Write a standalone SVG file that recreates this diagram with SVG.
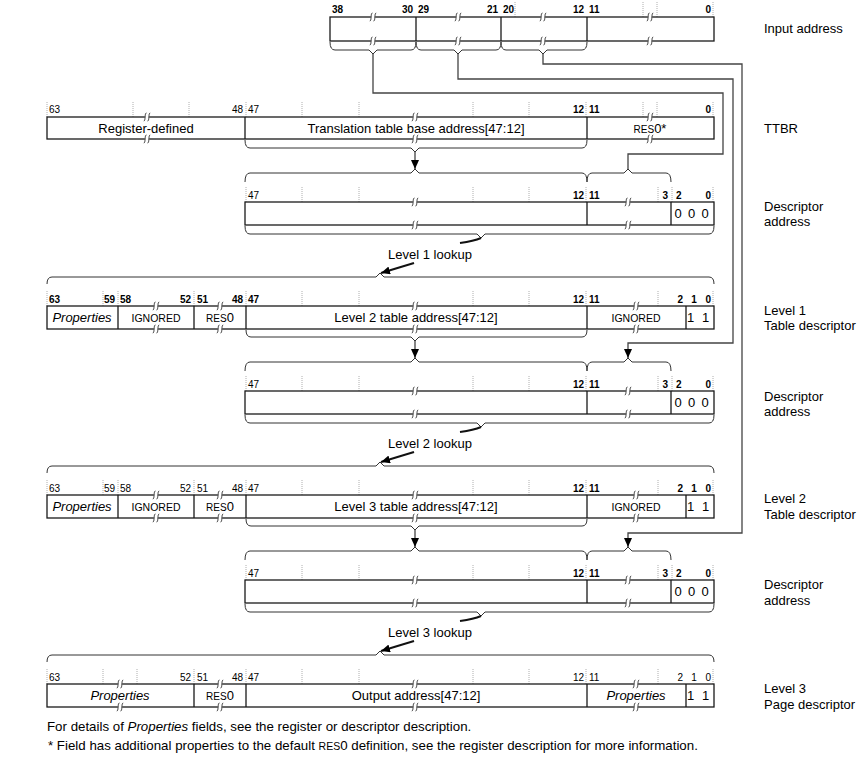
<svg xmlns="http://www.w3.org/2000/svg" width="866" height="759" viewBox="0 0 866 759">
<style>
text{font-family:"Liberation Sans",Arial,sans-serif;fill:#000}
.t{font-size:13px}
.m{text-anchor:middle}
.e{text-anchor:end}
.n{font-size:10px}
.nb{font-size:10px;font-weight:bold}
.ig{font-size:10.5px}
.sc{font-size:10px}
.it{font-style:italic}
.fn{font-size:13.3px}
.box{fill:#fff;stroke:#1a1a1a;stroke-width:1.3}
.dv{stroke:#1a1a1a;stroke-width:1.3}
.br{fill:none;stroke:#333;stroke-width:1}
.tk{fill:none;stroke:#9a9a9a;stroke-width:0.8;stroke-dasharray:1 1}
.cn{fill:none;stroke:#444;stroke-width:1.3}
.lk{fill:none;stroke:#111;stroke-width:2}
</style>
<defs>
<g id="brk">
<rect x="-2.2" y="-1.6" width="4.4" height="3.2" fill="#fff"/>
<path d="M-3.2,4 C-1.2,4 -2.6,-4 -0.6,-4 M0.6,4 C2.6,4 1.2,-4 3.2,-4" fill="none" stroke="#222" stroke-width="0.9"/>
</g>
<marker id="ah" markerUnits="userSpaceOnUse" markerWidth="10" markerHeight="8" refX="9" refY="4" orient="auto">
<path d="M0,0 L9,4 L0,8 Z" fill="#000"/>
</marker>
</defs>

<!-- Input address -->
<g id="input-address">
<path class="tk" d="M515,2V17M643,2V17M657,2V17M713,2V17"/>
<text class="nb" x="332" y="13">38</text>
<text class="nb e" x="413" y="13">30</text>
<text class="nb" x="418" y="13">29</text>
<text class="nb e" x="498" y="13">21</text>
<text class="nb" x="503" y="13">20</text>
<text class="nb e" x="584" y="13">12</text>
<text class="nb" x="589" y="13">11</text>
<text class="nb e" x="711" y="13">0</text>
<rect class="box" x="330" y="17" width="384" height="24"/>
<path class="dv" d="M416,17V41M501,17V41M587,17V41"/>
<use href="#brk" x="373" y="17"/><use href="#brk" x="458" y="17"/><use href="#brk" x="543" y="17"/><use href="#brk" x="650" y="17"/>
<use href="#brk" x="373" y="41"/><use href="#brk" x="458" y="41"/><use href="#brk" x="543" y="41"/><use href="#brk" x="650" y="41"/>
<path class="br" d="M330,42Q330,50 335,50L369,50L373,54L377,50L411,50Q416,50 416,42"/>
<path class="br" d="M416,42Q416,50 421,50L454,50L458,54L462,50L496,50Q501,50 501,42"/>
<path class="br" d="M501,42Q501,50 506,50L539,50L543,54L547,50L582,50Q587,50 587,42"/>
<text class="t" x="764" y="33">Input address</text>
</g>

<!-- TTBR -->
<g id="ttbr">
<path class="tk" d="M47,102V117M133,102V117M189,102V117M246,102V117M302,102V117M359,102V117M473,102V117M529,102V117M586,102V117M643,102V117M657,102V117M713,102V117"/>
<text class="n" x="49" y="113">63</text>
<text class="n e" x="243" y="113">48</text>
<text class="n" x="248" y="113">47</text>
<text class="nb e" x="584" y="113">12</text>
<text class="nb" x="589" y="113">11</text>
<text class="nb e" x="711" y="113">0</text>
<rect class="box" x="47" y="117" width="667" height="22"/>
<path class="dv" d="M245,117V139M587,117V139"/>
<use href="#brk" x="147" y="117"/><use href="#brk" x="415" y="117"/><use href="#brk" x="650" y="117"/>
<use href="#brk" x="147" y="139"/><use href="#brk" x="415" y="139"/><use href="#brk" x="650" y="139"/>
<text class="t m" x="146" y="132.5">Register-defined</text>
<text class="t m" x="416" y="132.5">Translation table base address[47:12]</text>
<text class="t m" x="650" y="132.5"><tspan class="sc">RES</tspan>0*</text>
<path class="br" d="M245,140Q245,148 250,148L411,148L415,152L419,148L582,148Q587,148 587,140"/>
<text class="t" x="764" y="133">TTBR</text>
</g>

<!-- Descriptor address 1 -->
<g id="desc-addr-1">
<path class="br" d="M245,182Q245,173 250,173L411,173L415,169L419,173L582,173Q587,173 587,182"/>
<path class="br" d="M587,182Q587,173 592,173L624,173L628,169L632,173L666,173Q671,173 671,182"/>
<path class="tk" d="M246,187V202M302,187V202M359,187V202M473,187V202M529,187V202M586,187V202M658,187V202M672,187V202M713,187V202"/>
<text class="n" x="248" y="198.5">47</text>
<text class="nb e" x="584" y="198.5">12</text>
<text class="nb" x="589" y="198.5">11</text>
<text class="nb e" x="668" y="198.5">3</text>
<text class="nb" x="676" y="198.5">2</text>
<text class="nb e" x="711" y="198.5">0</text>
<rect class="box" x="245" y="202" width="469" height="23"/>
<path class="dv" d="M587,202V225M671,202V225"/>
<use href="#brk" x="415" y="202"/><use href="#brk" x="628" y="202"/>
<use href="#brk" x="415" y="225"/><use href="#brk" x="628" y="225"/>
<text class="t m" x="678" y="218">0</text><text class="t m" x="691.5" y="218">0</text><text class="t m" x="705" y="218">0</text>
<path class="br" d="M245,226Q245,234 250,234L477,234L481,238L485,234L709,234Q714,234 714,226"/>
<text class="t" x="764" y="211">Descriptor</text>
<text class="t" x="764" y="226">address</text>
</g>

<!-- Level 1 table descriptor -->
<g id="level1-descriptor">
<path class="br" d="M47,284Q47,277 52,277L376,277L380,273L384,277L709,277Q714,277 714,284"/>
<path class="tk" d="M47,291V306M103,291V306M118,291V306M194,291V306M246,291V306M302,291V306M359,291V306M473,291V306M529,291V306M586,291V306M658,291V306M713,291V306"/>
<text class="nb" x="49" y="302.5">63</text>
<text class="nb e" x="115" y="302.5">59</text>
<text class="nb" x="120" y="302.5">58</text>
<text class="nb e" x="191" y="302.5">52</text>
<text class="nb" x="197" y="302.5">51</text>
<text class="nb e" x="243" y="302.5">48</text>
<text class="nb" x="248" y="302.5">47</text>
<text class="nb e" x="584" y="302.5">12</text>
<text class="nb" x="589" y="302.5">11</text>
<text class="nb e" x="683" y="302.5">2</text>
<text class="nb m" x="694" y="302.5">1</text>
<text class="nb e" x="711" y="302.5">0</text>
<rect class="box" x="47" y="306" width="667" height="23"/>
<path class="dv" d="M118,306V329M194,306V329M246,306V329M587,306V329M686,306V329"/>
<use href="#brk" x="156" y="306"/><use href="#brk" x="220" y="306"/><use href="#brk" x="415" y="306"/><use href="#brk" x="636" y="306"/>
<use href="#brk" x="156" y="329"/><use href="#brk" x="220" y="329"/><use href="#brk" x="415" y="329"/><use href="#brk" x="636" y="329"/>
<text class="t m it" x="82" y="322">Properties</text>
<text class="ig m" x="156" y="321.5">IGNORED</text>
<text class="t m" x="220" y="322"><tspan class="sc">RES</tspan>0</text>
<text class="t m" x="416" y="322">Level 2 table address[47:12]</text>
<text class="ig m" x="636" y="321.5">IGNORED</text>
<text class="t m" x="690.5" y="322">1</text><text class="t m" x="705.5" y="322">1</text>
<path class="br" d="M246,330Q246,337 251,337L411,337L415,341L419,337L582,337Q587,337 587,330"/>
<text class="t" x="764" y="315">Level 1</text>
<text class="t" x="764" y="330">Table descriptor</text>
</g>

<!-- Descriptor address 2 -->
<g id="desc-addr-2">
<path class="br" d="M245,371Q245,362 250,362L411,362L415,358L419,362L582,362Q587,362 587,371"/>
<path class="br" d="M587,371Q587,362 592,362L624,362L628,358L632,362L666,362Q671,362 671,371"/>
<path class="tk" d="M246,376V391M302,376V391M359,376V391M473,376V391M529,376V391M586,376V391M658,376V391M672,376V391M713,376V391"/>
<text class="n" x="248" y="387.5">47</text>
<text class="nb e" x="584" y="387.5">12</text>
<text class="nb" x="589" y="387.5">11</text>
<text class="nb e" x="668" y="387.5">3</text>
<text class="nb" x="676" y="387.5">2</text>
<text class="nb e" x="711" y="387.5">0</text>
<rect class="box" x="245" y="391" width="469" height="23"/>
<path class="dv" d="M587,391V414M671,391V414"/>
<use href="#brk" x="415" y="391"/><use href="#brk" x="628" y="391"/>
<use href="#brk" x="415" y="414"/><use href="#brk" x="628" y="414"/>
<text class="t m" x="678" y="407">0</text><text class="t m" x="691.5" y="407">0</text><text class="t m" x="705" y="407">0</text>
<path class="br" d="M245,415Q245,423 250,423L477,423L481,427L485,423L709,423Q714,423 714,415"/>
<text class="t" x="764" y="401">Descriptor</text>
<text class="t" x="764" y="416">address</text>
</g>

<!-- Level 2 table descriptor -->
<g id="level2-descriptor">
<path class="br" d="M47,473Q47,466 52,466L376,466L380,462L384,466L709,466Q714,466 714,473"/>
<path class="tk" d="M47,480V495M103,480V495M118,480V495M194,480V495M246,480V495M302,480V495M359,480V495M473,480V495M529,480V495M586,480V495M658,480V495M713,480V495"/>
<text class="n" x="49" y="491.5">63</text>
<text class="n e" x="115" y="491.5">59</text>
<text class="n" x="120" y="491.5">58</text>
<text class="n e" x="191" y="491.5">52</text>
<text class="n" x="197" y="491.5">51</text>
<text class="n e" x="243" y="491.5">48</text>
<text class="n" x="248" y="491.5">47</text>
<text class="nb e" x="584" y="491.5">12</text>
<text class="nb" x="589" y="491.5">11</text>
<text class="nb e" x="683" y="491.5">2</text>
<text class="nb m" x="694" y="491.5">1</text>
<text class="nb e" x="711" y="491.5">0</text>
<rect class="box" x="47" y="495" width="667" height="23"/>
<path class="dv" d="M118,495V518M194,495V518M246,495V518M587,495V518M686,495V518"/>
<use href="#brk" x="156" y="495"/><use href="#brk" x="220" y="495"/><use href="#brk" x="415" y="495"/><use href="#brk" x="636" y="495"/>
<use href="#brk" x="156" y="518"/><use href="#brk" x="220" y="518"/><use href="#brk" x="415" y="518"/><use href="#brk" x="636" y="518"/>
<text class="t m it" x="82" y="511">Properties</text>
<text class="ig m" x="156" y="510.5">IGNORED</text>
<text class="t m" x="220" y="511"><tspan class="sc">RES</tspan>0</text>
<text class="t m" x="416" y="511">Level 3 table address[47:12]</text>
<text class="ig m" x="636" y="510.5">IGNORED</text>
<text class="t m" x="690.5" y="511">1</text><text class="t m" x="705.5" y="511">1</text>
<path class="br" d="M246,519Q246,526 251,526L411,526L415,530L419,526L582,526Q587,526 587,519"/>
<text class="t" x="764" y="503">Level 2</text>
<text class="t" x="764" y="519">Table descriptor</text>
</g>

<!-- Descriptor address 3 -->
<g id="desc-addr-3">
<path class="br" d="M245,560Q245,551 250,551L411,551L415,547L419,551L582,551Q587,551 587,560"/>
<path class="br" d="M587,560Q587,551 592,551L624,551L628,547L632,551L666,551Q671,551 671,560"/>
<path class="tk" d="M246,565V580M302,565V580M359,565V580M473,565V580M529,565V580M586,565V580M658,565V580M672,565V580M713,565V580"/>
<text class="n" x="248" y="576.5">47</text>
<text class="nb e" x="584" y="576.5">12</text>
<text class="nb" x="589" y="576.5">11</text>
<text class="nb e" x="668" y="576.5">3</text>
<text class="nb" x="676" y="576.5">2</text>
<text class="nb e" x="711" y="576.5">0</text>
<rect class="box" x="245" y="580" width="469" height="23"/>
<path class="dv" d="M587,580V603M671,580V603"/>
<use href="#brk" x="415" y="580"/><use href="#brk" x="628" y="580"/>
<use href="#brk" x="415" y="603"/><use href="#brk" x="628" y="603"/>
<text class="t m" x="678" y="596">0</text><text class="t m" x="691.5" y="596">0</text><text class="t m" x="705" y="596">0</text>
<path class="br" d="M245,604Q245,612 250,612L477,612L481,616L485,612L709,612Q714,612 714,604"/>
<text class="t" x="764" y="589">Descriptor</text>
<text class="t" x="764" y="605">address</text>
</g>

<!-- Level 3 page descriptor -->
<g id="level3-descriptor">
<path class="br" d="M47,662Q47,655 52,655L376,655L380,651L384,655L709,655Q714,655 714,662"/>
<path class="tk" d="M47,669V684M103,669V684M137,669V684M194,669V684M246,669V684M302,669V684M359,669V684M473,669V684M529,669V684M586,669V684M658,669V684M713,669V684"/>
<text class="n" x="49" y="680.5">63</text>
<text class="n e" x="191" y="680.5">52</text>
<text class="n" x="197" y="680.5">51</text>
<text class="n e" x="243" y="680.5">48</text>
<text class="n" x="248" y="680.5">47</text>
<text class="n e" x="584" y="680.5">12</text>
<text class="n" x="589" y="680.5">11</text>
<text class="n e" x="683" y="680.5">2</text>
<text class="n m" x="694" y="680.5">1</text>
<text class="n e" x="711" y="680.5">0</text>
<rect class="box" x="47" y="684" width="667" height="23"/>
<path class="dv" d="M194,684V707M246,684V707M587,684V707M686,684V707"/>
<use href="#brk" x="120" y="684"/><use href="#brk" x="220" y="684"/><use href="#brk" x="415" y="684"/><use href="#brk" x="636" y="684"/>
<use href="#brk" x="120" y="707"/><use href="#brk" x="220" y="707"/><use href="#brk" x="415" y="707"/><use href="#brk" x="636" y="707"/>
<text class="t m it" x="120" y="700">Properties</text>
<text class="t m" x="220" y="700"><tspan class="sc">RES</tspan>0</text>
<text class="t m" x="416" y="700">Output address[47:12]</text>
<text class="t m it" x="636" y="700">Properties</text>
<text class="t m" x="690.5" y="700">1</text><text class="t m" x="705.5" y="700">1</text>
<text class="t" x="764" y="693">Level 3</text>
<text class="t" x="764" y="709">Page descriptor</text>
</g>

<!-- Connectors -->
<g id="connectors">
<path class="cn" d="M373,54V93H723V154H628V169"/>
<path class="cn" d="M458,54V79H733V343H628V358" marker-end="url(#ah)"/>
<path class="cn" d="M543,54V64H742V533H628V547" marker-end="url(#ah)"/>
<path class="cn" d="M415,152V169" marker-end="url(#ah)"/>
<path class="cn" d="M415,341V358" marker-end="url(#ah)"/>
<path class="cn" d="M415,530V547" marker-end="url(#ah)"/>
<path class="lk" d="M481,238Q474,241 460,243"/>
<path class="lk" d="M414,263L381,273" marker-end="url(#ah)"/>
<path class="lk" d="M481,427Q474,430 460,432"/>
<path class="lk" d="M414,452L381,462" marker-end="url(#ah)"/>
<path class="lk" d="M481,616Q474,619 460,621"/>
<path class="lk" d="M414,641L381,651" marker-end="url(#ah)"/>
</g>
<g id="lookup-labels">
<text class="t m" x="430" y="259">Level 1 lookup</text>
<text class="t m" x="430" y="448">Level 2 lookup</text>
<text class="t m" x="430" y="637">Level 3 lookup</text>
</g>

<!-- Footnotes -->
<g id="notes">
<text class="fn" x="47" y="731">For details of <tspan class="it">Properties</tspan> fields, see the register or descriptor description.</text>
<text class="fn" x="48" y="750">* Field has additional properties to the default <tspan font-size="10.5">RES</tspan>0 definition, see the register description for more information.</text>
</g>
</svg>
